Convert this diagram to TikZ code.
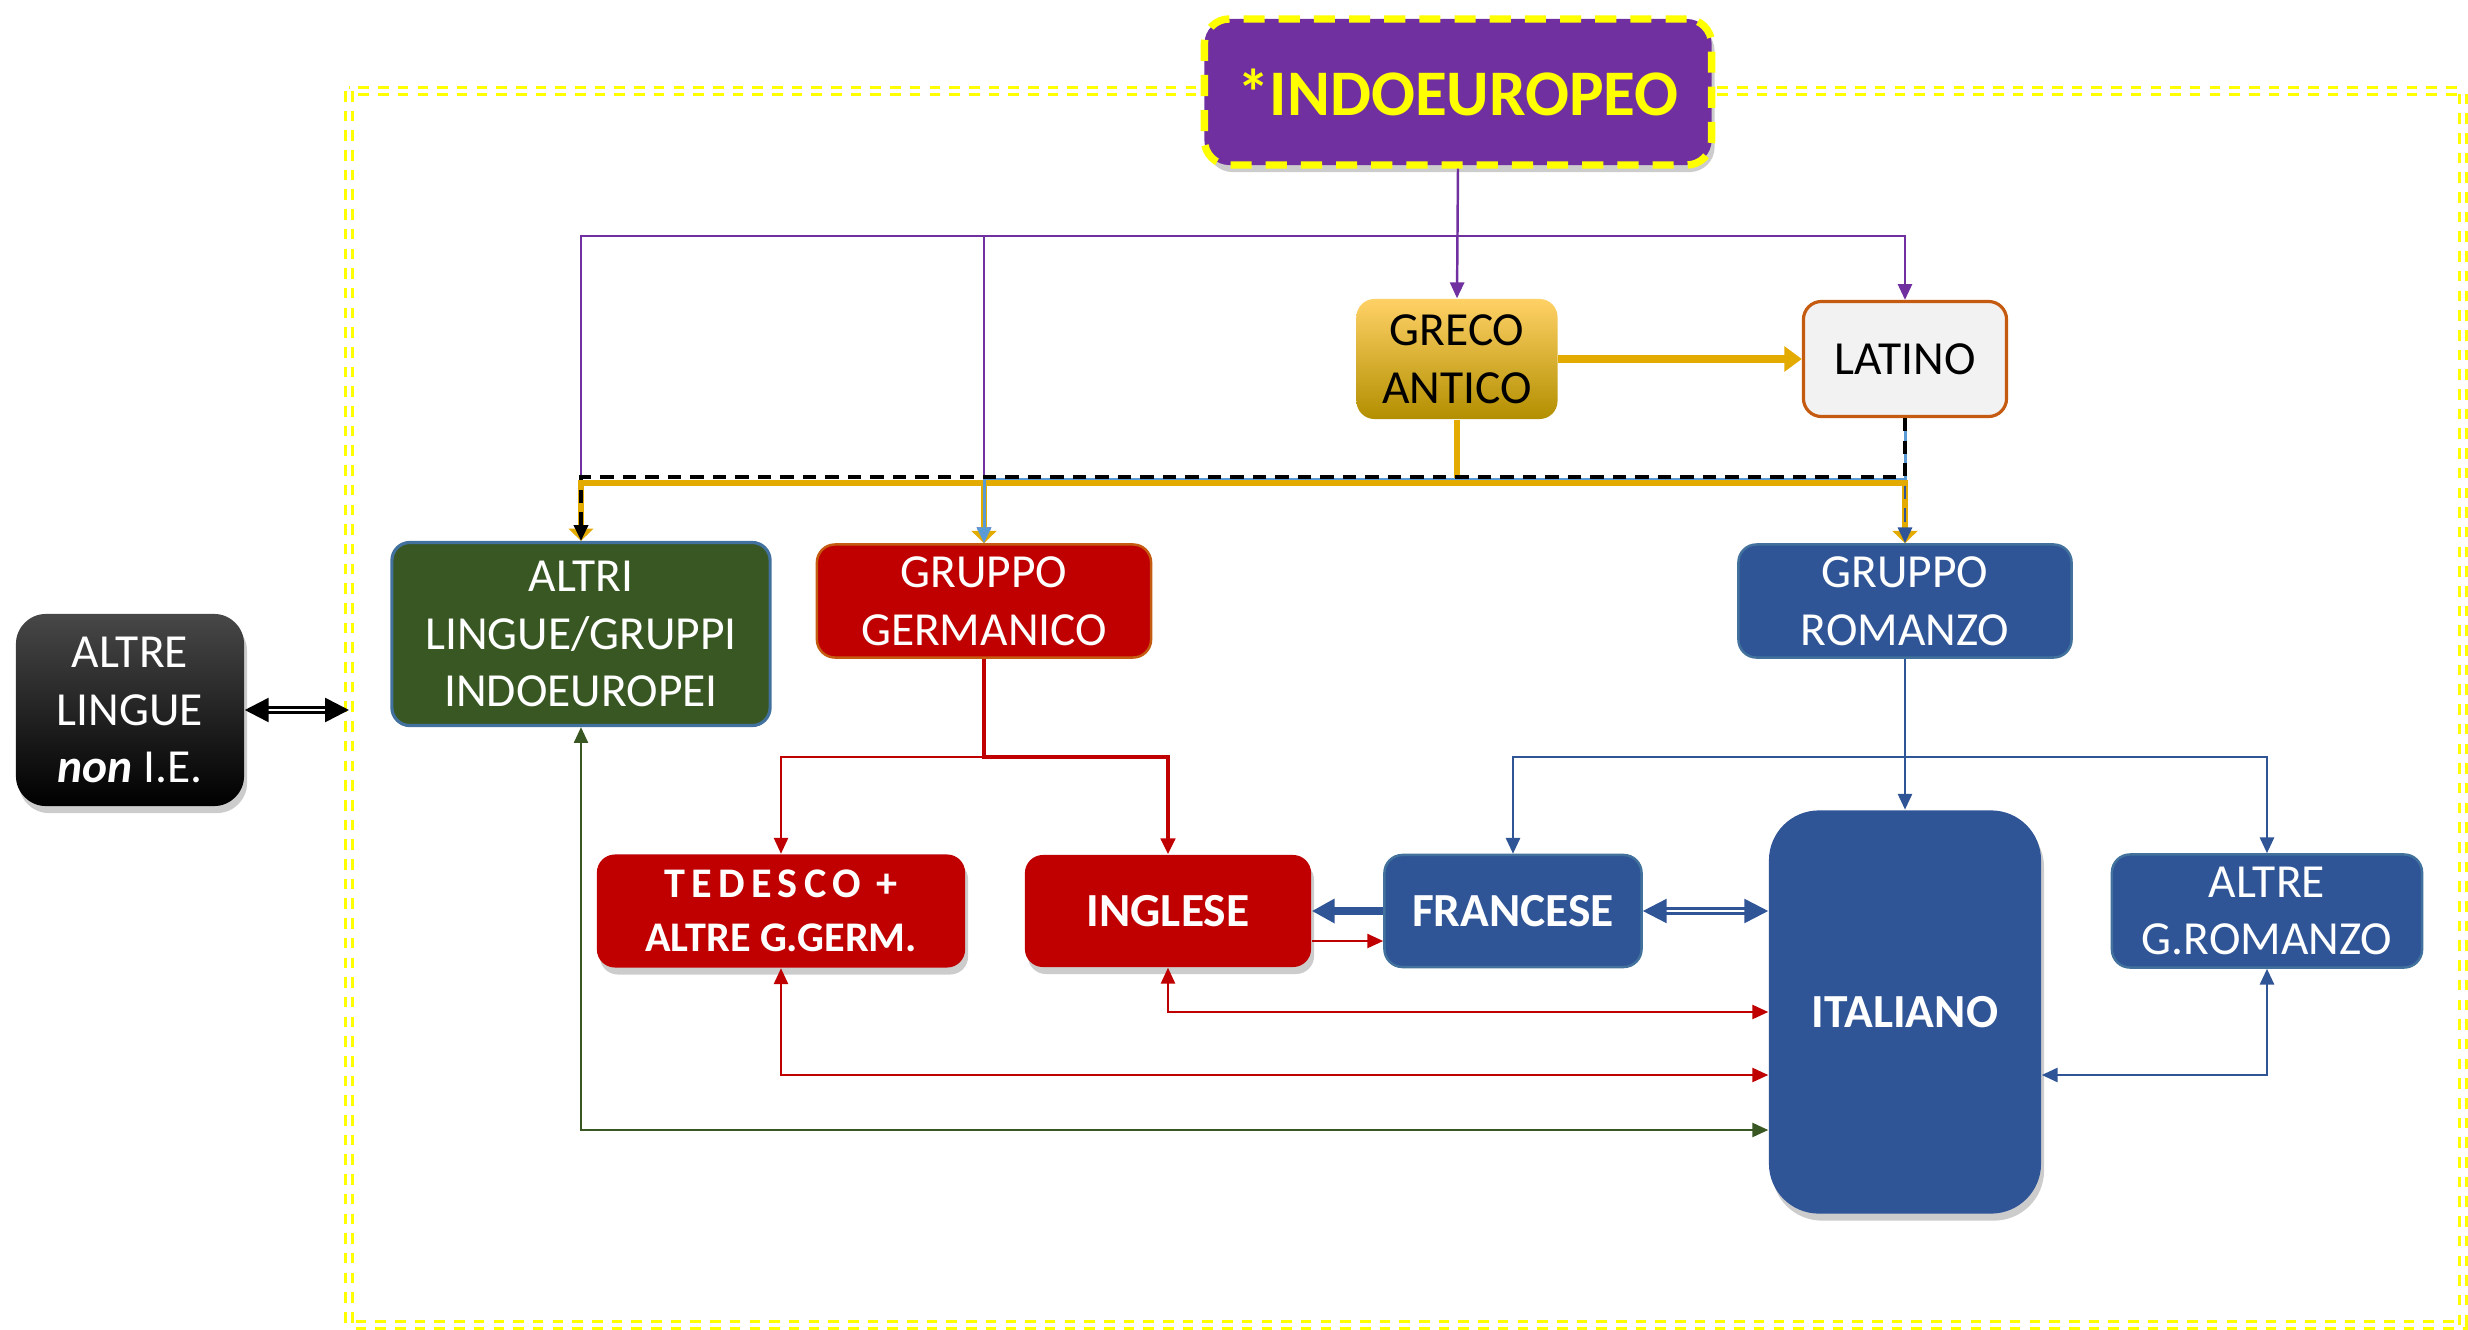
\documentclass[tikz,border=0pt]{standalone}
\usepackage{fontspec}
\setmainfont{Carlito}
\usetikzlibrary{arrows.meta,shadows}

\definecolor{viola}{HTML}{7030A0}
\definecolor{giallo}{HTML}{FFFF00}
\definecolor{oro}{HTML}{E3AA00}
\definecolor{celeste}{HTML}{5B9BD5}
\definecolor{blu}{HTML}{2F5597}
\definecolor{bordoblu}{HTML}{41719C}
\definecolor{rosso}{HTML}{C00000}
\definecolor{verde}{HTML}{385723}
\definecolor{arancio}{HTML}{C55A11}
\definecolor{grigio}{HTML}{F2F2F2}

\begin{document}
\begin{tikzpicture}[x=0.01cm, y=-0.01cm,
  box/.style={rounded corners=0.18cm, align=center, text=white, inner sep=0pt,
    font=\fontsize{13.5}{16.4}\selectfont},
  grassetto/.style={font=\fontsize{13.5}{16.4}\selectfont\bfseries},
  ombra/.style={drop shadow={shadow xshift=0.03cm, shadow yshift=-0.07cm, opacity=0.4}},
  pfreccia/.style={-{Triangle[length=4.5pt,width=4pt]}},
  pfrecce/.style={{Triangle[length=4.5pt,width=4pt]}-{Triangle[length=4.5pt,width=4pt]}},
  lviola/.style={draw=viola, line width=0.7pt, pfreccia},
  loro/.style={draw=oro, line width=1.8pt, -{Triangle[length=3.5pt,width=7pt]}},
  lnera/.style={draw=black, line width=0.9pt, dash pattern=on 3.8pt off 2.6pt, pfreccia},
  lceleste/.style={draw=celeste, line width=0.85pt, pfreccia},
  lrossa/.style={draw=rosso, line width=0.6pt, pfreccia},
  lblu/.style={draw=blu, line width=0.7pt, pfreccia},
  lverde/.style={draw=verde, line width=0.6pt, pfreccia},
  ldoppia/.style={double=white, line width=0.75pt, double distance=0.5pt,
    {Triangle[length=6.8pt,width=6.8pt]}-{Triangle[length=6.8pt,width=6.8pt]}},
  cornice/.style={draw=giallo, double=white, line width=0.85pt, double distance=1.1pt,
    dash pattern=on 3pt off 2.6pt}
]
\useasboundingbox (0,0) rectangle (2468,1330);

% 1. Yellow double dashed frame round the I.E. family
\draw[cornice] (349,91) rectangle (2463,1325);

% 2. Helper levels for the buses
\coordinate (pbus) at (0,236);
\coordinate (kbus) at (0,477);
\coordinate (cbus) at (0,479);
\coordinate (gbus) at (0,483);
\coordinate (rbus) at (0,757);
\coordinate (rlow) at (0,1075);
\coordinate (vlow) at (0,1130);
\coordinate (framew) at (349,710);

% 3. Boxes
\node[box, fill=viola, draw=giallo, line width=2.1pt, dash pattern=on 6pt off 4pt,
  rounded corners=0.25cm, minimum width=5.07cm, minimum height=1.46cm, text=giallo,
  font=\fontsize{18.5}{22}\selectfont\bfseries, ombra] (indo) at (1458,92) {*INDOEUROPEO};
\node[box, top color=yellow!40!orange!60, middle color=yellow!75!orange, bottom color=yellow!60!orange!70!black,
  text=black, minimum width=2.01cm, minimum height=1.20cm] (greco) at (1457,359) {GRECO\\ANTICO};
\node[box, fill=grigio, draw=arancio, line width=0.9pt, text=black,
  minimum width=2.03cm, minimum height=1.15cm] (latino) at (1905,359) {LATINO};
\node[box, fill=verde, draw=bordoblu, line width=0.9pt,
  minimum width=3.78cm, minimum height=1.83cm] (altri) at (581,634) {ALTRI\\LINGUE/GRUPPI\\INDOEUROPEI};
\node[box, fill=rosso, draw=arancio, line width=0.7pt,
  minimum width=3.34cm, minimum height=1.13cm] (germ) at (984,601) {GRUPPO\\GERMANICO};
\node[box, fill=blu, draw=bordoblu, line width=0.7pt,
  minimum width=3.33cm, minimum height=1.13cm] (romanzo) at (1905,601) {GRUPPO\\ROMANZO};
\node[box, top color=black!72, middle color=black, bottom color=black, rounded corners=0.3cm,
  minimum width=2.28cm, minimum height=1.92cm, ombra] (altrel) at (130,710)
  {ALTRE\\LINGUE\\\textbf{\textit{non}} I.E.};
\node[box, fill=rosso, font=\fontsize{12}{15.5}\selectfont\bfseries,
  minimum width=3.68cm, minimum height=1.13cm, ombra] (tedesco) at (781,911)
  {{\addfontfeatures{LetterSpace=15}TEDESCO +}\\ALTRE G.GERM.};
\node[box, grassetto, fill=rosso, minimum width=2.86cm, minimum height=1.12cm, ombra] (ingl) at (1168,911) {INGLESE};
\node[box, grassetto, fill=blu, draw=bordoblu, line width=0.7pt,
  minimum width=2.57cm, minimum height=1.12cm] (franc) at (1513,911) {FRANCESE};
\node[box, grassetto, fill=blu, rounded corners=0.5cm,
  minimum width=2.72cm, minimum height=4.03cm, ombra] (ital) at (1905,1012) {ITALIANO};
\node[box, fill=blu, draw=bordoblu, line width=0.7pt,
  minimum width=3.10cm, minimum height=1.13cm] (altrerom) at (2267,911) {ALTRE\\G.ROMANZO};

% 4. From Indoeuropeo (purple)
\draw[lviola] (indo.south) -- (greco.north);
\draw[lviola] (indo.south |- pbus) -| (latino.north);
\draw[lviola] (indo.south |- pbus) -| (altri.north);
\draw[lviola] (indo.south |- pbus) -| (germ.north);

% 5. From Greco antico (gold)
\draw[loro, line width=2.1pt, -{Triangle[length=5pt,width=7pt]}] (greco.east) -- (latino.west);
\draw[loro] (greco.south) -- (greco.south |- gbus) -| (altri.north);
\draw[loro] (greco.south |- gbus) -| (germ.north);
\draw[loro] (greco.south |- gbus) -| (romanzo.north);

% 6. From Latino
\draw[lceleste] (latino.south) -- (latino.south |- cbus) -| (germ.north);
\draw[lblu, line width=0.8pt, dash pattern=on 3.8pt off 2.6pt] (latino.south) -- (romanzo.north);
\draw[lnera] (latino.south) -- (latino.south |- kbus) -| (altri.north);

% 7. Germanic group (red)
\draw[lrossa, line width=1.3pt] (germ.south) -- (germ.south |- rbus) -| (ingl.north);
\draw[lrossa] (germ.south |- rbus) -| (tedesco.north);

% 8. Romance group (blue)
\draw[lblu] (romanzo.south) -- (ital.north);
\draw[lblu] (romanzo.south |- rbus) -| (franc.north);
\draw[lblu] (romanzo.south |- rbus) -| (altrerom.north);

% 9. Exchanges with Italiano
\draw[lblu, line width=2.3pt, -{Triangle[length=6.5pt,width=6.6pt]}] (franc.west) -- (ingl.east);
\draw[lrossa] ([yshift=-0.3cm]ingl.east) -- ([yshift=-0.3cm]franc.west);
\draw[ldoppia, draw=blu] (franc.east) -- (franc.east -| ital.west);
\draw[lrossa, pfrecce] (ingl.south) |- (ital.west);
\draw[lrossa, pfrecce] (tedesco.south) |- (ital.west |- rlow);
\draw[lblu, pfrecce] (altrerom.south) |- (ital.east |- rlow);
\draw[lverde, pfrecce] (altri.south) |- (ital.west |- vlow);

% 10. Non I.E. languages
\draw[ldoppia, draw=black] (altrel.east) -- (framew);

\end{tikzpicture}
\end{document}
